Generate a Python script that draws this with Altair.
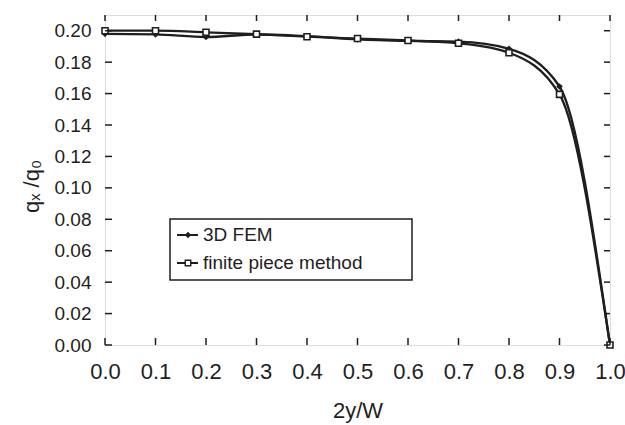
import altair as alt
import pandas as pd

x_vals = [0.0, 0.1, 0.2, 0.3, 0.4, 0.5, 0.6, 0.7, 0.8, 0.9, 1.0]
fem = [0.198, 0.1977, 0.196, 0.1976, 0.1965, 0.1945, 0.1935, 0.1930, 0.1885, 0.1645, 0.0]
fpm = [0.200, 0.200, 0.199, 0.1978, 0.1962, 0.1950, 0.1938, 0.1920, 0.1860, 0.1595, 0.0]
series_names = ["3D FEM", "finite piece method"]
x_ticks = [0.0, 0.1, 0.2, 0.3, 0.4, 0.5, 0.6, 0.7, 0.8, 0.9, 1.0]
y_ticks = [0.00, 0.02, 0.04, 0.06, 0.08, 0.10, 0.12, 0.14, 0.16, 0.18, 0.20]

W, H = 505, 330
INK = "#1e1e1e"
FONT = "Liberation Sans"

df = pd.DataFrame({
    "x": x_vals * 2,
    "q": fem + fpm,
    "series": [series_names[0]] * len(x_vals) + [series_names[1]] * len(x_vals),
})
dfx = pd.DataFrame({"x": x_ticks})
dfy = pd.DataFrame({"q": y_ticks})

xs = alt.Scale(domain=[0, 1], nice=False, zero=False)
ys = alt.Scale(domain=[0, 0.21], nice=False, zero=False)

xax = alt.Axis(values=x_ticks, format=".1f", tickSize=0, domain=False, grid=False,
               labelFontSize=22, labelFont=FONT, labelColor=INK, labelPadding=16,
               labelOverlap=False, labelFlush=False,
               title="2y/W", titleFont=FONT, titleFontSize=22, titleFontWeight="normal",
               titleColor=INK, titlePadding=18)
yax = alt.Axis(values=y_ticks, format=".2f", tickSize=0, domain=False, grid=False,
               labelFontSize=19, labelFont=FONT, labelColor=INK, labelPadding=14,
               labelOverlap=False, labelFlush=False,
               title="qₓ /q₀", titleFont=FONT, titleFontSize=22, titleFontWeight="normal",
               titleColor=INK, titleX=-74, titleY=171, titleAngle=270,
               titleAlign="center", titleBaseline="middle")

X = alt.X("x:Q", scale=xs, axis=xax)
Y = alt.Y("q:Q", scale=ys, axis=yax)

base = alt.Chart(df)
lines = base.mark_line(interpolate="monotone", color=INK, strokeWidth=2.3).encode(
    x=X, y=Y, detail="series:N")
pts_fem = base.transform_filter(alt.datum.series == series_names[0]).mark_point(
    shape="diamond", filled=True, color=INK, size=45, opacity=1).encode(x=X, y=Y)
pts_fpm = base.transform_filter(alt.datum.series == series_names[1]).mark_point(
    shape="square", filled=True, fill="white", stroke=INK, strokeWidth=1.6, size=36,
    opacity=1).encode(x=X, y=Y)

tk = alt.Chart(dfx)
top_t = tk.mark_rule(color=INK, strokeWidth=1.5).encode(x=X, y=alt.value(0), y2=alt.value(6))
bot_t = tk.mark_rule(color=INK, strokeWidth=1.5).encode(x=X, y=alt.value(H), y2=alt.value(H - 7))
tky = alt.Chart(dfy)
left_t = tky.mark_rule(color=INK, strokeWidth=1.5).encode(y=Y, x=alt.value(0), x2=alt.value(7))
right_t = tky.mark_rule(color=INK, strokeWidth=1.5).encode(y=Y, x=alt.value(W), x2=alt.value(W - 6))

# legend (drawn as annotation in pixel space)
one = alt.Chart(pd.DataFrame({"a": [0]}))
box = one.mark_rect(fill="white", stroke=INK, strokeWidth=1.5).encode(
    x=alt.value(65), x2=alt.value(307), y=alt.value(204), y2=alt.value(265))
rows_y = [220, 248]
leg_layers = []
for i, name in enumerate(series_names):
    ry = rows_y[i]
    leg_layers.append(one.mark_rule(color=INK, strokeWidth=2).encode(
        x=alt.value(72), x2=alt.value(93), y=alt.value(ry)))
    if i == 0:
        leg_layers.append(one.mark_point(shape="diamond", filled=True, color=INK, size=40,
                                         opacity=1).encode(x=alt.value(83), y=alt.value(ry)))
    else:
        leg_layers.append(one.mark_point(shape="square", filled=True, fill="white", stroke=INK,
                                         strokeWidth=1.4, size=30, opacity=1).encode(
            x=alt.value(83), y=alt.value(ry)))
    leg_layers.append(one.mark_text(align="left", baseline="middle", font=FONT, fontSize=19,
                                    color=INK, text=name).encode(x=alt.value(98), y=alt.value(ry)))

chart = alt.layer(
    lines, pts_fem, pts_fpm, top_t, bot_t, left_t, right_t, box, *leg_layers,
).properties(
    width=W, height=H,
    autosize=alt.AutoSizeParams(type="none"),
    padding={"left": 105, "top": 15, "right": 15, "bottom": 80},
).configure_view(stroke=INK, strokeWidth=2).configure(background="white")

chart.save("out.html", embed_options={"renderer": "svg", "actions": False})
